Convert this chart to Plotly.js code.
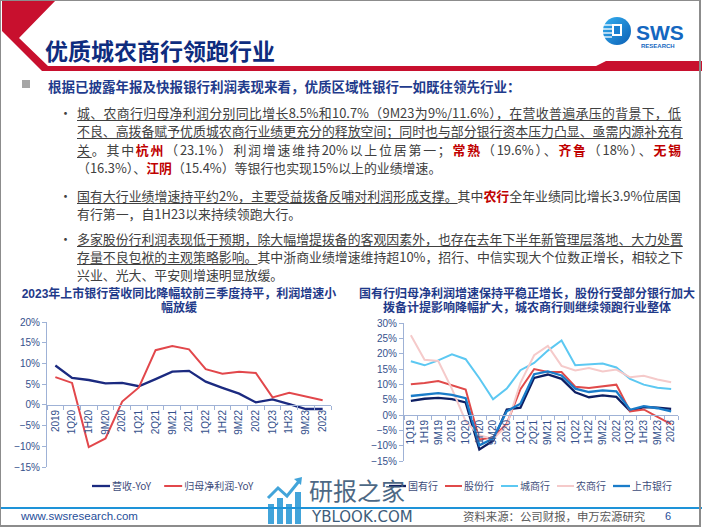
<!DOCTYPE html>
<html>
<head>
<meta charset="utf-8">
<script src="https://cdn.plot.ly/plotly-3.0.1.min.js"></script>
<style>
  body { margin: 0; background: #fff; }
  #slide { position: relative; width: 702px; height: 527px; overflow: hidden; background: #fff;
           font-family: "Noto Sans CJK SC", "Noto Sans", sans-serif; }
  .frame { position: absolute; left: 0; top: 0; width: 698px; height: 524px; border: 1px solid #8c8c8c; border-right-width: 2px; border-bottom-width: 2px; }
  .abs { position: absolute; white-space: nowrap; }
  .ln { position: absolute; left: 77px; width: 604px; height: 18.4px; line-height: 18.4px;
        font-size: 12.9px; color: #404040; white-space: nowrap; }
  .j { text-align: justify; text-align-last: justify; }
  .r { color: #C00000; font-weight: bold; }
  .u { text-decoration: underline; text-decoration-color: #404040; text-underline-offset: 2px; }
  .dot { position: absolute; left: 59px; font-size: 13px; color: #404040; }
  .ctitle { position: absolute; text-align: center; font-size: 12px; line-height: 13.5px;
            font-family: "Liberation Sans", "Noto Sans CJK SC", sans-serif;
            font-weight: bold; color: #1F3A8A; white-space: nowrap; }
  .chart { position: absolute; }
</style>
</head>
<body>
<div id="slide">

  <!-- header ribbon -->
  <svg class="abs" style="left:0;top:0" width="702" height="80">
    <polygon points="2,0 56,0 19,38 48,66 596,66 606,61 702,61 702,71 42,71 2,31" fill="#C8102E"/>
  </svg>
  <div class="abs" style="left:45px;top:34px;font-size:23px;font-weight:bold;color:#0E2C7E;line-height:32px">优质城农商行领跑行业</div>

  <!-- logo -->
  <svg class="abs" style="left:600px;top:14px" width="100" height="40">
    <defs>
      <linearGradient id="lg" x1="0" y1="0" x2="1" y2="1">
        <stop offset="0" stop-color="#35B0F0"/>
        <stop offset="1" stop-color="#0B5FB5"/>
      </linearGradient>
    </defs>
    <circle cx="17" cy="17" r="14" fill="url(#lg)"/>
    <g stroke="#fff" stroke-width="1.3">
      <line x1="4" y1="11" x2="12" y2="11"/>
      <line x1="3" y1="15" x2="12" y2="15"/>
      <line x1="3" y1="19" x2="12" y2="19"/>
      <line x1="4" y1="23" x2="12" y2="23"/>
    </g>
    <rect x="12" y="10" width="10" height="12" fill="#fff"/>
    <rect x="14" y="12" width="6" height="8" fill="#1A7FD0"/>
    <text x="36" y="26" font-family="Liberation Sans, Arial" font-weight="bold" font-size="21" fill="#1467C0">SWS</text>
    <text x="41" y="34" font-family="Liberation Sans, Arial" font-weight="bold" font-size="6" fill="#1467C0">RESEARCH</text>
  </svg>

  <!-- lead line -->
  <div class="abs" style="left:22px;top:80px;width:8px;height:8px;background:#A6A6A6"></div>
  <div class="abs" style="left:48px;top:76px;font-size:13.5px;font-weight:bold;color:#1F3B8C;line-height:20px">根据已披露年报及快报银行利润表现来看，优质区域性银行一如既往领先行业：</div>

  <!-- bullet 1 -->
  <div class="dot" style="top:103px">•</div>
  <div class="ln j" style="top:104px"><span class="u">城、农商行归母净利润分别同比增长8.5%和10.7%（9M23为9%/11.6%），在营收普遍承压的背景下，低</span></div>
  <div class="ln j" style="top:122.4px"><span class="u">不良、高拨备赋予优质城农商行业绩更充分的释放空间；同时也与部分银行资本压力凸显、亟需内源补充有</span></div>
  <div class="ln j" style="top:140.8px"><span class="u">关</span>。其中<span class="r">杭州</span>（23.1%）利润增速维持20%以上位居第一；<span class="r">常熟</span>（19.6%）、<span class="r">齐鲁</span>（18%）、<span class="r">无锡</span></div>
  <div class="ln" style="top:159.2px">（16.3%）、<span class="r">江阴</span>（15.4%）等银行也实现15%以上的业绩增速。</div>

  <!-- bullet 2 -->
  <div class="dot" style="top:186px">•</div>
  <div class="ln j" style="top:187px"><span class="u">国有大行业绩增速持平约2%，主要受益拨备反哺对利润形成支撑。</span>其中<span class="r">农行</span>全年业绩同比增长3.9%位居国</div>
  <div class="ln" style="top:205.4px">有行第一，自1H23以来持续领跑大行。</div>

  <!-- bullet 3 -->
  <div class="dot" style="top:229px">•</div>
  <div class="ln j" style="top:229.6px"><span class="u">多家股份行利润表现低于预期，除大幅增提拨备的客观因素外，也存在去年下半年新管理层落地、大力处置</span></div>
  <div class="ln j" style="top:248px"><span class="u">存量不良包袱的主观策略影响。</span>其中浙商业绩增速维持超10%，招行、中信实现大个位数正增长，相较之下</div>
  <div class="ln" style="top:266.4px">兴业、光大、平安则增速明显放缓。</div>

  <!-- chart titles -->
  <div class="ctitle" style="left:179px;top:288px;transform:translateX(-50%)">2023年上市银行营收同比降幅较前三季度持平，利润增速小<br>幅放缓</div>
  <div class="ctitle" style="left:527px;top:288px;transform:translateX(-50%)">国有行归母净利润增速保持平稳正增长，股份行受部分银行加大<br>拨备计提影响降幅扩大，城农商行则继续领跑行业整体</div>

  <div id="left" class="chart" style="left:0;top:285px;width:350px;height:215px"></div>
  <div id="right" class="chart" style="left:350px;top:285px;width:352px;height:215px"></div>

  <!-- watermark -->
  <svg class="abs" style="left:266px;top:474px;opacity:0.9" width="40" height="52">
    <rect x="2" y="30" width="6" height="20" fill="#2E9BD6"/>
    <rect x="11" y="24" width="6" height="26" fill="#2E9BD6"/>
    <rect x="20" y="30" width="6" height="20" fill="#2E9BD6"/>
    <rect x="29" y="18" width="6" height="32" fill="#2E9BD6"/>
    <polyline points="2,24 12,14 21,22 34,6" fill="none" stroke="#2E9BD6" stroke-width="3"/>
    <polygon points="28,5 36,3 35,11" fill="#2E9BD6"/>
  </svg>
  <div class="abs" style="left:309px;top:473px;font-size:24px;line-height:34px;color:#3E5C7A;opacity:0.92">研报之家</div>

  <!-- footer -->
  <div class="abs" style="left:0;top:507px;width:702px;height:2px;background:#1E93D8"></div>
  <div class="abs" style="left:312px;top:508px;font-size:15px;line-height:18px;color:#3E5C7A;font-family:'DejaVu Sans',sans-serif">YBLOOK.COM</div>
  <div class="abs" style="left:21px;top:508px;font-size:11.5px;line-height:16px;color:#1F4E9A;font-family:'Liberation Sans',Arial">www.swsresearch.com</div>
  <div class="abs" style="left:463px;top:508px;font-size:11.4px;line-height:17px;color:#595959">资料来源：公司财报，申万宏源研究</div>
  <div class="abs" style="left:665px;top:508px;font-size:11px;line-height:16px;color:#1F4E9A;font-family:'Liberation Sans',Arial">6</div>

  <div class="frame"></div>
</div>

<script>
// left chart: listed banks, revenue vs net profit yoy (%)
let leftCats = ["2019", "1Q20", "1H20", "9M20", "2020", "1Q21", "2Q21", "9M21", "2021",
                "1Q22", "1H22", "9M22", "2022", "1Q23", "1H23", "9M23", "2023"];
let revenueYoY = [9.5, 6.5, 6.0, 5.2, 5.3, 4.5, 6.2, 8.0, 8.2, 5.6, 4.1, 2.7, 0.6, 1.3, 0.2, -1.0, -1.0];
let profitYoY = [6.7, 5.3, -10.2, -8.1, 0.8, 4.2, 13.2, 14.2, 13.4, 8.6, 7.5, 8.0, 7.7, 1.8, 2.9, 2.0, 1.1];

// right chart: net profit yoy by bank type (%)
let rightCats = ["1Q19", "1H19", "9M19", "2019", "1Q20", "1H20", "9M20", "2020", "1Q21", "2Q21",
                 "9M21", "2021", "1Q22", "1H22", "9M22", "2022", "1Q23", "1H23", "9M23", "2023"];
let bigBanks = [4.6, 5.3, 5.6, 5.2, 4.1, -11.2, -8.4, 1.8, 2.4, 12.1, 13.2, 11.8, 7.4, 5.8, 6.4, 5.9, 1.3, 2.6, 2.4, 2.0];
let jointStock = [10.0, 10.4, 11.1, 9.6, 8.3, -8.0, -7.3, -2.8, 8.4, 15.0, 14.0, 14.0, 9.2, 8.8, 9.3, 9.9, 1.2, 1.8, -0.6, -3.0];
let cityBanks = [17.5, 16.2, 17.8, 19.8, 18.2, 12.0, 5.1, 8.6, 14.6, 17.0, 21.0, 24.3, 16.2, 16.5, 16.8, 15.5, 11.8, 9.9, 8.9, 8.5];
let ruralBanks = [26.0, 18.0, 17.6, 8.5, -2.0, -6.6, -7.8, -3.5, 10.5, 19.5, 22.5, 16.0, 14.5, 15.3, 14.2, 14.8, 12.3, 12.8, 11.6, 10.7];
let listedBanks = [6.2, 6.7, 7.1, 6.6, 5.5, -9.9, -7.7, 1.2, 3.7, 13.3, 14.2, 12.9, 8.6, 7.5, 8.0, 7.7, 1.7, 2.9, 2.2, 1.2];

let tickFont = {family: "Liberation Sans, Arial, sans-serif", size: 10, color: "#35518C"};
let legendFont = {family: "Noto Sans CJK SC, sans-serif", size: 10, color: "#3D4C7A"};
let axisColor = "#9FB2D6";

function xAxis(n, zeroPos) {
    return {
        type: "category", range: [-0.5, n - 0.5],
        anchor: "free", position: zeroPos,
        showline: true, linecolor: axisColor, linewidth: 1,
        ticks: "outside", ticklen: 4, tickcolor: axisColor, tickson: "boundaries",
        tickangle: -90, tickfont: tickFont,
        showgrid: false, zeroline: false, automargin: false
    };
}

function yAxis(lo, hi) {
    return {
        range: [lo, hi], dtick: 5, ticksuffix: "%",
        showline: true, linecolor: axisColor, linewidth: 1,
        ticks: "outside", ticklen: 4, tickcolor: axisColor,
        tickfont: tickFont, showgrid: false, zeroline: false, automargin: false
    };
}

let leftData = [
    {x: leftCats, y: revenueYoY, name: "营收-YoY", type: "scatter", mode: "lines",
     line: {color: "#1B2A80", width: 2.3}},
    {x: leftCats, y: profitYoY, name: "归母净利润-YoY", type: "scatter", mode: "lines",
     line: {color: "#E2474B", width: 2}}
];

let leftLayout = {
    width: 350, height: 215,
    margin: {l: 47, r: 19, t: 37, b: 33, autoexpand: false},
    paper_bgcolor: "rgba(0,0,0,0)", plot_bgcolor: "rgba(0,0,0,0)",
    xaxis: xAxis(leftCats.length, 15 / 35),
    yaxis: yAxis(-15, 20),
    showlegend: true,
    legend: {orientation: "h", x: 0.45, xanchor: "center", y: -0.13, yanchor: "middle",
             font: legendFont, itemwidth: 30, bgcolor: "rgba(0,0,0,0)"}
};

let rightData = [
    {x: rightCats, y: bigBanks, name: "国有行", line: {color: "#0E1F63", width: 2.3}},
    {x: rightCats, y: jointStock, name: "股份行", line: {color: "#E04A4A", width: 2}},
    {x: rightCats, y: cityBanks, name: "城商行", line: {color: "#5CC8F2", width: 2}},
    {x: rightCats, y: ruralBanks, name: "农商行", line: {color: "#F5CACA", width: 2}},
    {x: rightCats, y: listedBanks, name: "上市银行", line: {color: "#1A7CC9", width: 2.3}}
];
rightData.forEach(function (t) { t.type = "scatter"; t.mode = "lines"; });

let rightLayout = {
    width: 352, height: 215,
    margin: {l: 54, r: 24, t: 38, b: 39, autoexpand: false},
    paper_bgcolor: "rgba(0,0,0,0)", plot_bgcolor: "rgba(0,0,0,0)",
    xaxis: xAxis(rightCats.length, 15 / 45),
    yaxis: yAxis(-15, 30),
    showlegend: true,
    legend: {orientation: "h", x: 0.46, xanchor: "center", y: -0.18, yanchor: "middle",
             font: legendFont, itemwidth: 30, bgcolor: "rgba(0,0,0,0)"}
};

// the slide's legends use short line samples; pack the plotly legend items into one tight row
function tightLegend(id, pageX, pageY, lineLen, gap) {
    let root = document.getElementById(id);
    root.querySelectorAll(".legend [clip-path]").forEach(function (el) { el.removeAttribute("clip-path"); });
    let items = root.querySelectorAll(".legend g.traces");
    let m = /translate\(([-\d.e]+)[ ,]+([-\d.e]+)\)/.exec(items[0].getAttribute("transform"));
    let p0 = items[0].querySelector(".legendlines path").getBoundingClientRect();
    let ox = p0.left - 5 - parseFloat(m[1]);
    let oy = p0.top + p0.height / 2 - parseFloat(m[2]);
    let x = pageX;
    items.forEach(function (g) {
        g.querySelectorAll(".legendlines path").forEach(function (p) { p.setAttribute("d", "M0,0h" + lineLen); });
        let t = g.querySelector("text.legendtext");
        t.setAttribute("x", lineLen + 2);
        g.setAttribute("transform", "translate(" + (x - ox) + "," + (pageY - oy) + ")");
        x += lineLen + 2 + t.getComputedTextLength() + gap;
    });
}

let config = {displayModeBar: false, staticPlot: true};
Plotly.newPlot("left", leftData, leftLayout, config).then(function () {
    tightLegend("left", 92, 486, 18, 13);
});
Plotly.newPlot("right", rightData, rightLayout, config).then(function () {
    tightLegend("right", 389, 486, 17, 7);
});
</script>
</body>
</html>
